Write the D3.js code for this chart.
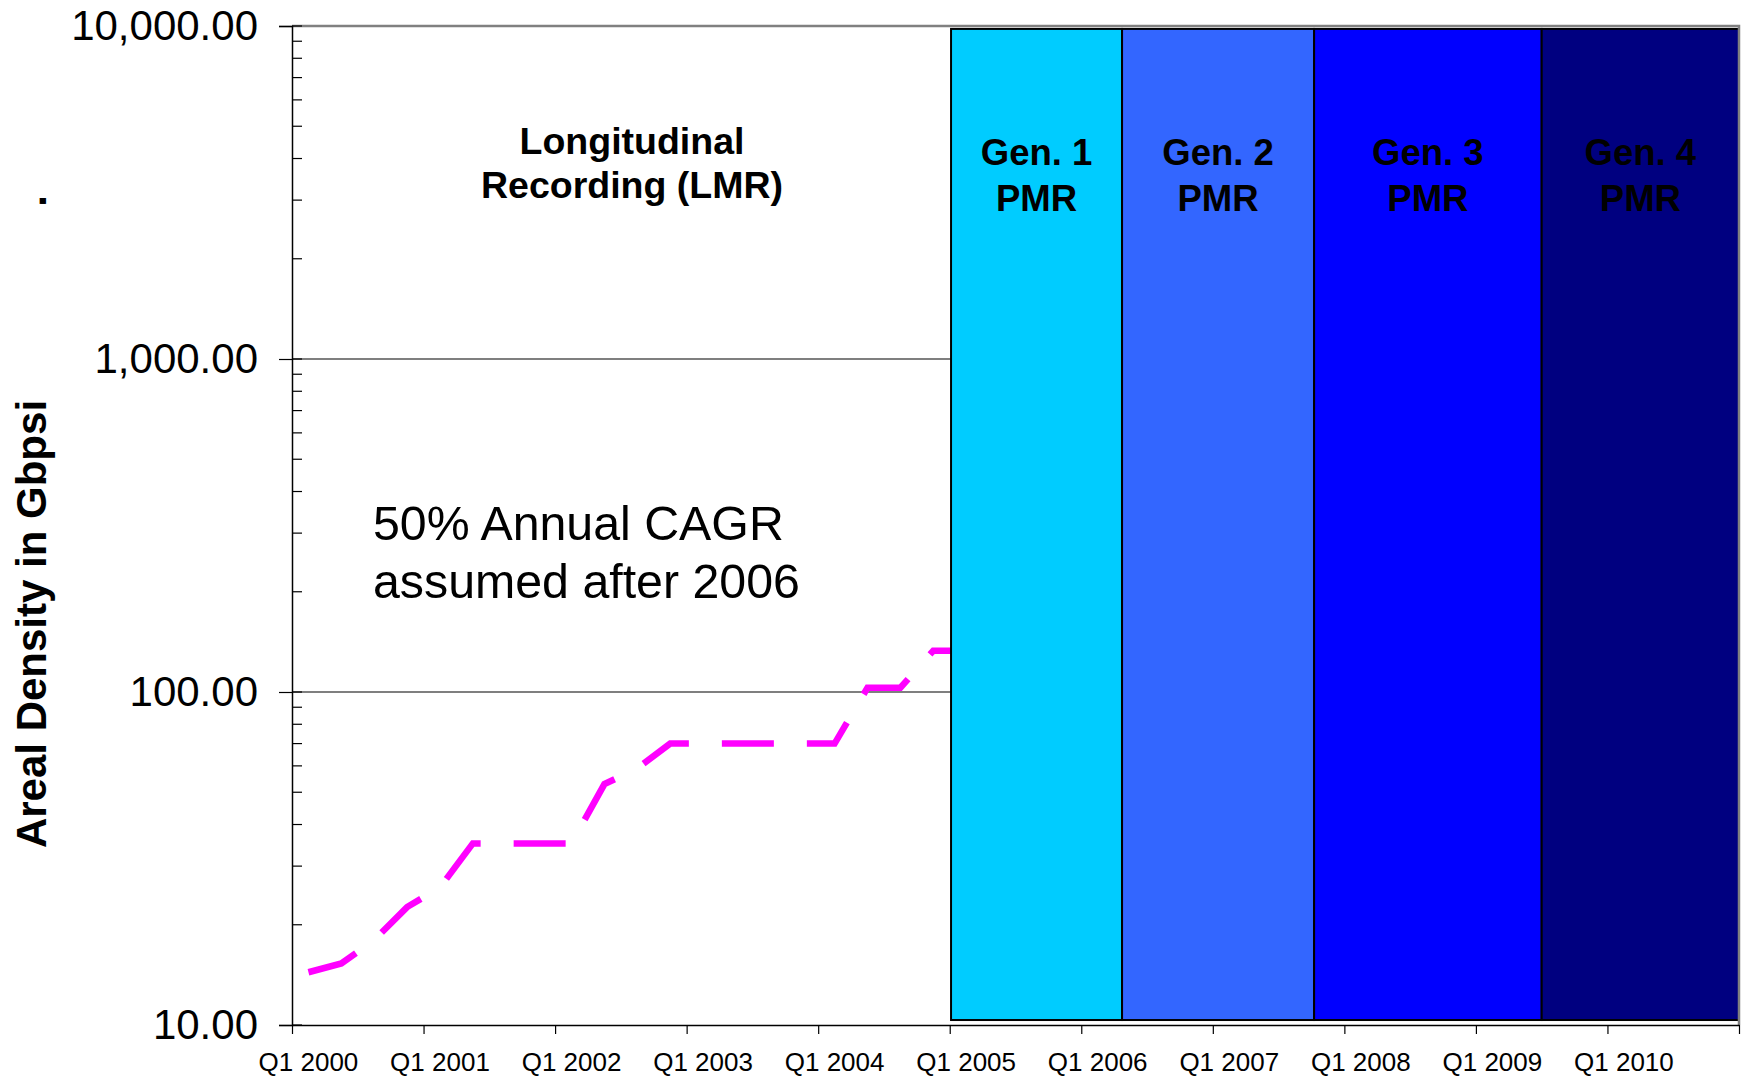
<!DOCTYPE html>
<html><head><meta charset="utf-8">
<script src="https://cdn.jsdelivr.net/npm/d3@7"></script>
<style>
body{margin:0;background:#fff}
svg{display:block}
text{font-family:"Liberation Sans",Arial,Helvetica,sans-serif;fill:#000}
</style>
</head><body>
<svg id="c" width="1744" height="1077"></svg>
<script>
// ---- data ----
const quarters = ["Q1 2000","Q2 2000","Q3 2000","Q4 2000",
  "Q1 2001","Q2 2001","Q3 2001","Q4 2001",
  "Q1 2002","Q2 2002","Q3 2002","Q4 2002",
  "Q1 2003","Q2 2003","Q3 2003","Q4 2003",
  "Q1 2004","Q2 2004","Q3 2004","Q4 2004","Q1 2005"];
const density = [14.4,15.3,18.0,22.6, 25.9,35.1,35.1,35.1, 35.1,52.9,59.0,70.0, 70.0,70.0,70.0,70.0, 70.0,103,103,133,133];
const yearTicks = [2000,2001,2002,2003,2004,2005,2006,2007,2008,2009,2010,2011];
const xLabels = ["Q1 2000","Q1 2001","Q1 2002","Q1 2003","Q1 2004","Q1 2005","Q1 2006","Q1 2007","Q1 2008","Q1 2009","Q1 2010"];
const yTicks = [10,100,1000,10000];
const phaseLine1 = ["Gen. 1","Gen. 2","Gen. 3","Gen. 4"];
const phaseLine2 = ["PMR","PMR","PMR","PMR"];
const phaseStart = [2005.01,2006.31,2007.77,2009.5];
const phaseEnd   = [2006.31,2007.77,2009.5,2011.0];
const phaseRange = [10.35, 9800];
const phaseColors = ["#00CCFF","#3366FF","#0000FF","#000080"];

// ---- layout ----
const svg = d3.select("#c");
const L = 292, R = 1739, T = 26, B = 1025;
const x = d3.scaleLinear().domain([2000, 2011]).range([L, R]);
const y = d3.scaleLog().domain([10, 10000]).range([B, T]);
const qx = lab => { const [q, yr] = lab.split(" "); return x(+yr + (+q[1] - 1) / 4 + 0.125); };

// gridlines
svg.append("g").selectAll("line").data(yTicks.filter(d => d > 10 && d < 10000)).join("line")
  .attr("x1", L).attr("x2", R).attr("y1", d => y(d)).attr("y2", d => y(d))
  .attr("stroke", "#000").attr("stroke-width", 1.2);

// data line
const line = d3.line().x((d, i) => qx(quarters[i])).y(d => y(d));
svg.append("path").datum(density).attr("d", line)
  .attr("fill", "none").attr("stroke", "#FF00FF").attr("stroke-width", 6.5)
  .attr("stroke-dasharray", "52,33").attr("stroke-linejoin", "miter");

// phase bars
const phases = phaseStart.map((s, i) => ({s, e: phaseEnd[i], c: phaseColors[i], t1: phaseLine1[i], t2: phaseLine2[i]}));
svg.append("g").selectAll("rect").data(phases).join("rect")
  .attr("x", d => x(d.s)).attr("width", d => x(d.e) - x(d.s))
  .attr("y", y(phaseRange[1])).attr("height", y(phaseRange[0]) - y(phaseRange[1]))
  .attr("fill", d => d.c).attr("stroke", "#000").attr("stroke-width", 2);
const pl = svg.append("g").selectAll("text").data(phases).join("text")
  .attr("x", d => (x(d.s) + x(d.e)) / 2).attr("text-anchor", "middle")
  .attr("font-weight", "bold").attr("font-size", 36.5);
pl.append("tspan").attr("x", d => (x(d.s) + x(d.e)) / 2).attr("y", 165).text(d => d.t1);
pl.append("tspan").attr("x", d => (x(d.s) + x(d.e)) / 2).attr("y", 211).text(d => d.t2);

// plot frame (gray)
svg.append("path").attr("d", `M${L},${T}H${R}V${B}`).attr("fill", "none")
  .attr("stroke", "#808080").attr("stroke-width", 2.5);

// y axis
const yAx = svg.append("g").attr("transform", `translate(${L},0)`)
  .call(d3.axisLeft(y).tickValues(yTicks).tickFormat(d3.format(",.2f")).tickSize(13).tickPadding(21));
yAx.select(".domain").attr("stroke", "#000").attr("stroke-width", 1.5);
yAx.selectAll(".tick line").attr("stroke", "#000").attr("stroke-width", 1.2);
yAx.selectAll("text").attr("font-size", 42).attr("font-family", "'Liberation Sans',Arial,sans-serif").attr("fill", "#000");
// inner ticks (major + minor)
svg.append("g").selectAll("line").data(y.ticks()).join("line")
  .attr("x1", L).attr("x2", L + 10).attr("y1", d => y(d)).attr("y2", d => y(d))
  .attr("stroke", "#000").attr("stroke-width", 1.2);

// x axis
const xAx = svg.append("g").attr("transform", `translate(0,${B})`)
  .call(d3.axisBottom(x).tickValues(yearTicks).tickFormat("").tickSize(9).tickSizeOuter(0));
xAx.select(".domain").attr("stroke", "#000").attr("stroke-width", 1.5);
xAx.selectAll(".tick line").attr("stroke", "#000").attr("stroke-width", 1.2);
svg.append("g").selectAll("text").data(xLabels).join("text")
  .attr("x", d => qx(d)).attr("y", 1071).attr("text-anchor", "middle")
  .attr("font-size", 26).text(d => d);

// axis title
svg.append("text").attr("transform", "translate(46,624) rotate(-90)")
  .attr("text-anchor", "middle").attr("font-weight", "bold").attr("font-size", 42)
  .text("Areal Density in Gbpsi");
svg.append("text").attr("transform", "translate(46,201) rotate(-90)")
  .attr("text-anchor", "middle").attr("font-weight", "bold").attr("font-size", 42)
  .text(".");

// annotations
const a1 = svg.append("text").attr("text-anchor", "middle").attr("font-weight", "bold").attr("font-size", 37.5);
a1.append("tspan").attr("x", 632).attr("y", 154).text("Longitudinal");
a1.append("tspan").attr("x", 632).attr("y", 198).text("Recording (LMR)");
const a2 = svg.append("text").attr("font-size", 48.3);
a2.append("tspan").attr("x", 373).attr("y", 540).text("50% Annual CAGR");
a2.append("tspan").attr("x", 373).attr("y", 598).text("assumed after 2006");
</script>
</body></html>
